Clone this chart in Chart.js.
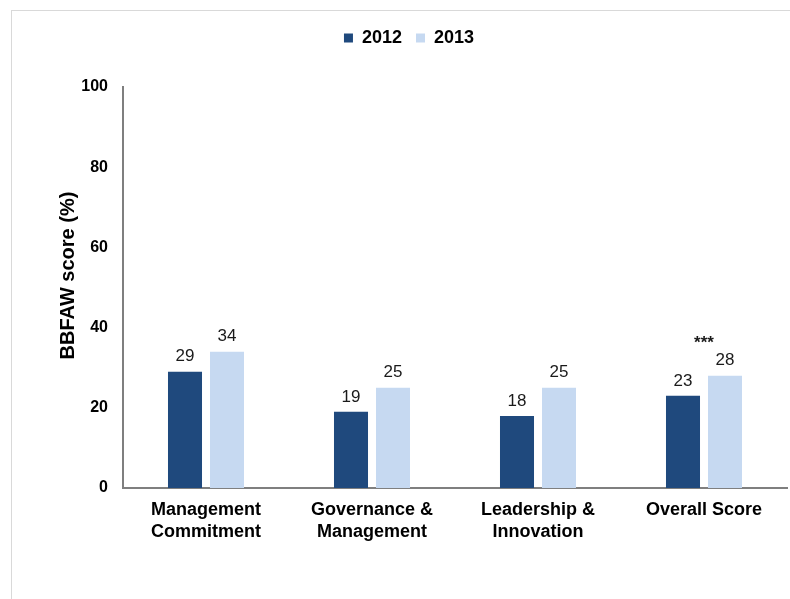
<!DOCTYPE html>
<html>
<head>
<meta charset="utf-8">
<script src="https://cdn.jsdelivr.net/npm/chart.js@4/dist/chart.umd.min.js"></script>
<style>
  html, body { margin: 0; padding: 0; background: #ffffff; }
  #frame {
    position: absolute; left: 11px; top: 10px; width: 800px; height: 620px;
    border-left: 1px solid #d9d9d9; border-top: 1px solid #d9d9d9;
  }
  #wrap { position: absolute; left: 0; top: 0; width: 790px; height: 599px; }
</style>
</head>
<body>
<div id="frame"></div>
<div id="wrap"><canvas id="chart" width="790" height="599"></canvas></div>
<script>
// Benchmark categories and yearly scores (%)
const categories = [
  ['Management', 'Commitment'],
  ['Governance &', 'Management'],
  ['Leadership &', 'Innovation'],
  ['Overall Score']
];
const scores2012 = [29, 19, 18, 23];
const scores2013 = [34, 25, 25, 28];
const significance = ['', '', '', '***'];
const yTicks = [0, 20, 40, 60, 80, 100];
const yTitle = 'BBFAW score (%)';

const FONT = '"Liberation Sans", Arial, Helvetica, sans-serif';

// Extra breathing room between the legend and the plot
const legendGap = {
  id: 'legendGap',
  beforeInit(chart) {
    const legend = chart.legend;
    if (!legend) return;
    const fit = legend.fit;
    legend.fit = function () {
      fit.call(this);
      this.height += 30;
    };
  }
};

// Value labels above each bar
const valueLabels = {
  id: 'valueLabels',
  afterDatasetsDraw(chart) {
    const ctx = chart.ctx;
    ctx.save();
    ctx.font = '17px ' + FONT;
    ctx.fillStyle = '#1a1a1a';
    ctx.textAlign = 'center';
    ctx.textBaseline = 'middle';
    chart.data.datasets.forEach((ds, i) => {
      const meta = chart.getDatasetMeta(i);
      meta.data.forEach((bar, j) => {
        ctx.fillText(String(ds.data[j]), bar.x, bar.y - 15);
      });
    });
    ctx.restore();
  }
};

// Significance marks centred over a category
const sigMarks = {
  id: 'sigMarks',
  afterDatasetsDraw(chart) {
    const ctx = chart.ctx;
    const xs = chart.scales.x, ys = chart.scales.y;
    ctx.save();
    ctx.font = 'bold 17px ' + FONT;
    ctx.fillStyle = '#1a1a1a';
    ctx.textAlign = 'center';
    ctx.textBaseline = 'middle';
    significance.forEach((mark, j) => {
      if (!mark) return;
      const top = Math.max(scores2012[j], scores2013[j]);
      ctx.fillText(mark, xs.getPixelForValue(j), ys.getPixelForValue(top) - 32);
    });
    ctx.restore();
  }
};

// Vertical axis title, set a little above the plot's midline
const axisTitle = {
  id: 'axisTitle',
  afterDraw(chart) {
    const ctx = chart.ctx;
    const area = chart.chartArea;
    ctx.save();
    ctx.translate(68, (area.top + area.bottom) / 2 - 12);
    ctx.rotate(-Math.PI / 2);
    ctx.font = 'bold 20px ' + FONT;
    ctx.fillStyle = '#000000';
    ctx.textAlign = 'center';
    ctx.textBaseline = 'middle';
    ctx.fillText(yTitle, 0, 0);
    ctx.restore();
  }
};

new Chart(document.getElementById('chart'), {
  type: 'bar',
  data: {
    labels: categories,
    datasets: [
      { label: '2012', data: scores2012, backgroundColor: '#1f497d' },
      { label: '2013', data: scores2013, backgroundColor: '#c6d9f1' }
    ]
  },
  options: {
    responsive: false,
    animation: false,
    layout: { padding: { left: 31, right: 3, top: 15, bottom: 53 } },
    datasets: { bar: { categoryPercentage: 0.506, barPercentage: 0.81 } },
    plugins: {
      tooltip: { enabled: false },
      legend: {
        position: 'top',
        labels: {
          color: '#000000',
          font: { family: FONT, size: 18, weight: 'bold' },
          boxWidth: 9, boxHeight: 9, padding: 14
        }
      }
    },
    scales: {
      x: {
        grid: { display: false },
        border: { display: true, color: '#7f7f7f', width: 2 },
        ticks: {
          color: '#000000',
          padding: 3,
          maxRotation: 0,
          font: { family: FONT, size: 18, weight: 'bold', lineHeight: 1.22 }
        }
      },
      y: {
        min: 0, max: 100,
        afterFit(scale) { scale.width = 92; },
        afterBuildTicks(scale) { scale.ticks = yTicks.map(v => ({ value: v })); },
        grid: { display: false },
        border: { display: true, color: '#7f7f7f', width: 2 },
        ticks: {
          color: '#000000',
          padding: 7,
          font: { family: FONT, size: 16, weight: 'bold' }
        }
      }
    }
  },
  plugins: [legendGap, valueLabels, sigMarks, axisTitle]
});
</script>
</body>
</html>
